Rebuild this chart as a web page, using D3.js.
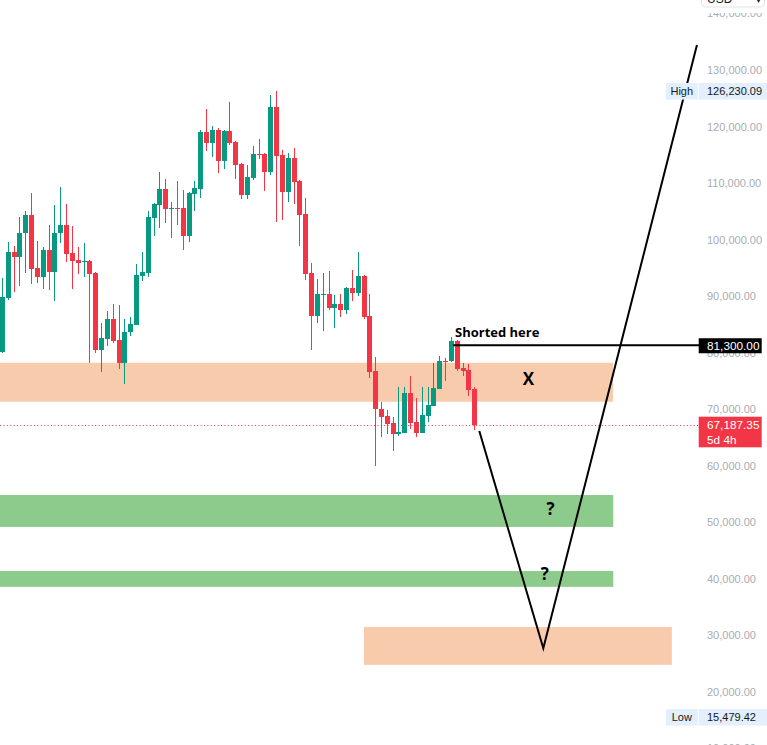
<!DOCTYPE html>
<html lang='en'>
    <head>
        <meta charset='UTF-8'>
        <title>BTC short idea</title>
        <script src="https://d3js.org/d3.v7.min.js"></script>
        <style>
            body {
                margin: 0;
                background-color: white;
                font-family: 'Liberation Sans', Arial, sans-serif;
            }
            .axisLabel {
                font-size: 11px;
                fill: #a9acb4;
            }
            .note {
                font-family: 'Open Sans', sans-serif;
                font-weight: bold;
                fill: black;
            }
        </style>
    </head>
    <body>
        <svg id='chart' width='767' height='745'></svg>
        <script>
            // weekly candles
            let opens = [80160, 89710, 97850, 96970, 101210, 104350, 95020, 93430, 98150, 94310,
                101110, 102580, 97570, 96380, 96080, 96260, 94140, 80460, 82410, 85940,
                82230, 78210, 83590, 84940, 93600, 94140, 103870, 106170, 108950, 105460,
                105640, 105640, 100680, 108110, 109000, 119030, 117140, 119380, 113950, 119210,
                117260, 113420, 107940, 110950, 115190, 115140, 112010, 123450, 114960, 108470,
                114430, 110410, 104520, 94140, 86530, 90240, 90370, 87940, 88650, 87590,
                91480, 90600, 93600, 86480, 76740, 70070, 68780, 67540, 65650, 65830,
                72850, 67720, 65830, 68840, 70600, 73560, 78510, 78510, 82100, 77330,
                76920, 73610]
            let highs = [93250, 99620, 98860, 104040, 105110, 108290, 99800, 98740, 102580, 106110,
                109350, 106290, 102400, 98630, 99440, 96380, 94310, 85180, 87360, 88600,
                88420, 85940, 86250, 95680, 97800, 105000, 106520, 111950, 110710, 106700,
                110360, 108770, 108410, 110360, 119380, 123100, 120090, 119740, 119300, 124340,
                117490, 113600, 113190, 116550, 117790, 115370, 125580, 126230.09, 115850, 115320,
                116200, 110590, 107410, 95910, 93070, 94140, 94490, 90240, 90420, 91660,
                94670, 97850, 93700, 90370, 79270, 71210, 69840, 68660, 73910, 73910,
                75860, 71910, 73910, 73910, 78110, 79400, 79100, 82810, 82280, 78210,
                78040, 73970]
            let lows = [80000, 89310, 90780, 91780, 94140, 92140, 92370, 91250, 91080, 89180,
                99440, 96080, 91250, 93910, 93430, 78210, 79980, 76620, 81220, 81640,
                77150, 74500, 82940, 84900, 92720, 93430, 100680, 102100, 102980, 100330,
                102580, 98210, 99620, 105110, 107410, 115720, 114660, 111830, 112540, 116780,
                110770, 107230, 107230, 110590, 114310, 108640, 111480, 103160, 103510, 106700,
                106340, 98910, 92900, 80510, 85290, 83870, 87590, 84400, 86350, 86780,
                89180, 90070, 86000, 75560, 59990, 65120, 65540, 62640, 65300, 65800,
                66540, 65010, 65800, 67770, 70500, 73500, 74980, 78340, 76740, 75910,
                72370, 66360]
            let closes = [89890, 97850, 96970, 101210, 104350, 94840, 93430, 98150, 94310, 101210,
                102580, 97450, 96260, 95910, 96260, 93910, 80460, 82640, 85940, 82110,
                78210, 83590, 85060, 93730, 94260, 104040, 106290, 108950, 105460, 105640,
                105460, 100680, 108240, 109180, 119030, 117140, 119380, 113950, 119210, 117140,
                113240, 107940, 111120, 115140, 115010, 112010, 123450, 114840, 108470, 114430,
                110240, 104400, 93960, 86530, 90370, 90420, 87940, 88650, 87590, 91480,
                90600, 93600, 86350, 76620, 70070, 68660, 67420, 65650, 65950, 72850,
                67600, 65830, 68960, 70730, 73740, 78510, 78330, 82100, 77150, 76800,
                73440, 67187.35]

            let priceTicks = d3.range(10000, 150000, 10000)
            let lastPrice = 67187.35
            let countdown = '5d 4h'
            let shortPrice = 81300
            let highPrice = 126230.09
            let lowPrice = 15479.42

            // boxes: [from bar, to bar, bottom price, top price]
            let orangeZones = [[-1, 104.7, 71300, 78200], [62, 114.8, 24750, 31450]]
            let greenZones = [[-1, 104.75, 49150, 54800], [-1, 104.75, 38550, 41350]]

            // projected path (bar index, price)
            let pathBars = [81.77, 92.75, 119.1]
            let pathPrices = [66130, 27680, 134420]
            let shortFromBar = 77.3

            let notes = [
                {bar: 77.6, price: 82700, text: 'Shorted here', size: 13, anchor: 'start'},
                {bar: 90.2, price: 74300, text: 'X', size: 17, anchor: 'middle'},
                {bar: 94.0, price: 51350, text: '?', size: 17, anchor: 'middle'},
                {bar: 93.0, price: 39850, text: '?', size: 17, anchor: 'middle'}
            ]

            let svg = d3.select('#chart')
            let plotRight = 699

            let x = d3.scaleLinear().domain([0, 81]).range([2.5, 474.8])
            let y = d3.scaleLinear().domain([130000, 20000]).range([70, 691.7])

            let plot = svg.append('g')

            function zone(z, color) {
                plot.append('rect')
                    .attr('x', Math.max(0, x(z[0])))
                    .attr('y', y(z[3]))
                    .attr('width', x(z[1]) - Math.max(0, x(z[0])))
                    .attr('height', y(z[2]) - y(z[3]))
                    .attr('fill', color)
            }
            orangeZones.forEach(z => zone(z, '#f8cbad'))
            greenZones.forEach(z => zone(z, '#8dcb8c'))

            // current price dotted line
            plot.append('line')
                .attr('x1', 0)
                .attr('x2', plotRight)
                .attr('y1', Math.round(y(lastPrice)) + 0.5)
                .attr('y2', Math.round(y(lastPrice)) + 0.5)
                .attr('stroke', '#f23645')
                .attr('stroke-width', 1)
                .attr('stroke-dasharray', '1,2.4')

            let candles = opens.map((o, i) => ({i: i, o: o, h: highs[i], l: lows[i], c: closes[i]}))
            let candleG = plot.selectAll('g.candle')
                .data(candles)
                .enter()
                .append('g')
                .attr('class', 'candle')
                .attr('fill', d => d.c >= d.o ? '#089981' : '#f23645')

            candleG.append('rect')
                .attr('x', d => Math.round(x(d.i) - 2.5) + 2)
                .attr('width', 1)
                .attr('y', d => Math.round(y(d.h)))
                .attr('height', d => Math.max(1, Math.round(y(d.l)) - Math.round(y(d.h))))
            candleG.append('rect')
                .attr('x', d => Math.round(x(d.i) - 2.5))
                .attr('width', 5)
                .attr('y', d => Math.round(y(Math.max(d.o, d.c))))
                .attr('height', d => Math.max(1, Math.round(y(Math.min(d.o, d.c))) - Math.round(y(Math.max(d.o, d.c)))))

            // short entry line
            plot.append('line')
                .attr('x1', x(shortFromBar))
                .attr('x2', plotRight)
                .attr('y1', y(shortPrice))
                .attr('y2', y(shortPrice))
                .attr('stroke', 'black')
                .attr('stroke-width', 2)

            let line = d3.line()
                .x(d => x(d[0]))
                .y(d => y(d[1]))
            plot.append('path')
                .attr('d', line(d3.zip(pathBars, pathPrices)))
                .attr('fill', 'none')
                .attr('stroke', 'black')
                .attr('stroke-width', 2)
                .attr('stroke-linejoin', 'miter')

            plot.selectAll('text.note')
                .data(notes)
                .enter()
                .append('text')
                .attr('class', 'note')
                .attr('x', d => x(d.bar))
                .attr('y', d => y(d.price))
                .attr('text-anchor', d => d.anchor)
                .style('font-size', d => d.size + 'px')
                .text(d => d.text)

            // price scale
            let fmt = d3.format(',.2f')
            let axis = svg.append('g')
            axis.selectAll('text')
                .data(priceTicks)
                .enter()
                .append('text')
                .attr('class', 'axisLabel')
                .attr('x', 707)
                .attr('y', d => y(d) + 4)
                .text(d => fmt(d))

            // fade at the top behind the currency box
            axis.append('rect')
                .attr('x', plotRight)
                .attr('y', 0)
                .attr('width', 68)
                .attr('height', y(140000) - 0.5)
                .attr('fill', 'white')
            axis.append('rect')
                .attr('x', 701.5)
                .attr('y', -20)
                .attr('width', 63)
                .attr('height', 27)
                .attr('rx', 4)
                .attr('fill', 'white')
                .attr('stroke', '#e0e3eb')
            axis.append('text')
                .attr('x', 707)
                .attr('y', 2.5)
                .style('font-size', '12px')
                .attr('fill', '#131722')
                .text('USD')
            axis.append('text')
                .attr('x', 756)
                .attr('y', 2.5)
                .style('font-size', '10px')
                .attr('fill', '#131722')
                .text('▾')

            function tag(price, title) {
                let cy = y(price)
                axis.append('rect')
                    .attr('x', 666)
                    .attr('y', cy - 8.3)
                    .attr('width', 31.7)
                    .attr('height', 16.6)
                    .attr('fill', '#e3effd')
                axis.append('rect')
                    .attr('x', 698.7)
                    .attr('y', cy - 8.3)
                    .attr('width', 68.3)
                    .attr('height', 16.6)
                    .attr('fill', '#e3effd')
                axis.append('text')
                    .attr('x', 681.8)
                    .attr('y', cy + 4)
                    .attr('text-anchor', 'middle')
                    .style('font-size', '11px')
                    .attr('fill', '#131722')
                    .text(title)
                axis.append('text')
                    .attr('x', 707)
                    .attr('y', cy + 4)
                    .style('font-size', '11px')
                    .attr('fill', '#131722')
                    .text(fmt(price))
            }
            tag(highPrice, 'High')
            tag(lowPrice, 'Low')

            let sy = y(shortPrice)
            axis.append('rect')
                .attr('x', 698.7)
                .attr('y', sy - 7)
                .attr('width', 63)
                .attr('height', 15)
                .attr('fill', 'black')
            axis.append('text')
                .attr('x', 707)
                .attr('y', sy + 4.3)
                .style('font-size', '11.8px')
                .attr('fill', 'white')
                .text(fmt(shortPrice))

            let ly = y(lastPrice)
            axis.append('rect')
                .attr('x', 698.7)
                .attr('y', ly - 8.3)
                .attr('width', 63)
                .attr('height', 30.6)
                .attr('fill', '#f23645')
            axis.append('text')
                .attr('x', 707)
                .attr('y', ly + 4.3)
                .style('font-size', '11.8px')
                .attr('fill', 'white')
                .text(fmt(lastPrice))
            axis.append('text')
                .attr('x', 707)
                .attr('y', ly + 18.8)
                .style('font-size', '11.8px')
                .attr('fill', 'white')
                .text(countdown)
        </script>
    </body>
</html>
